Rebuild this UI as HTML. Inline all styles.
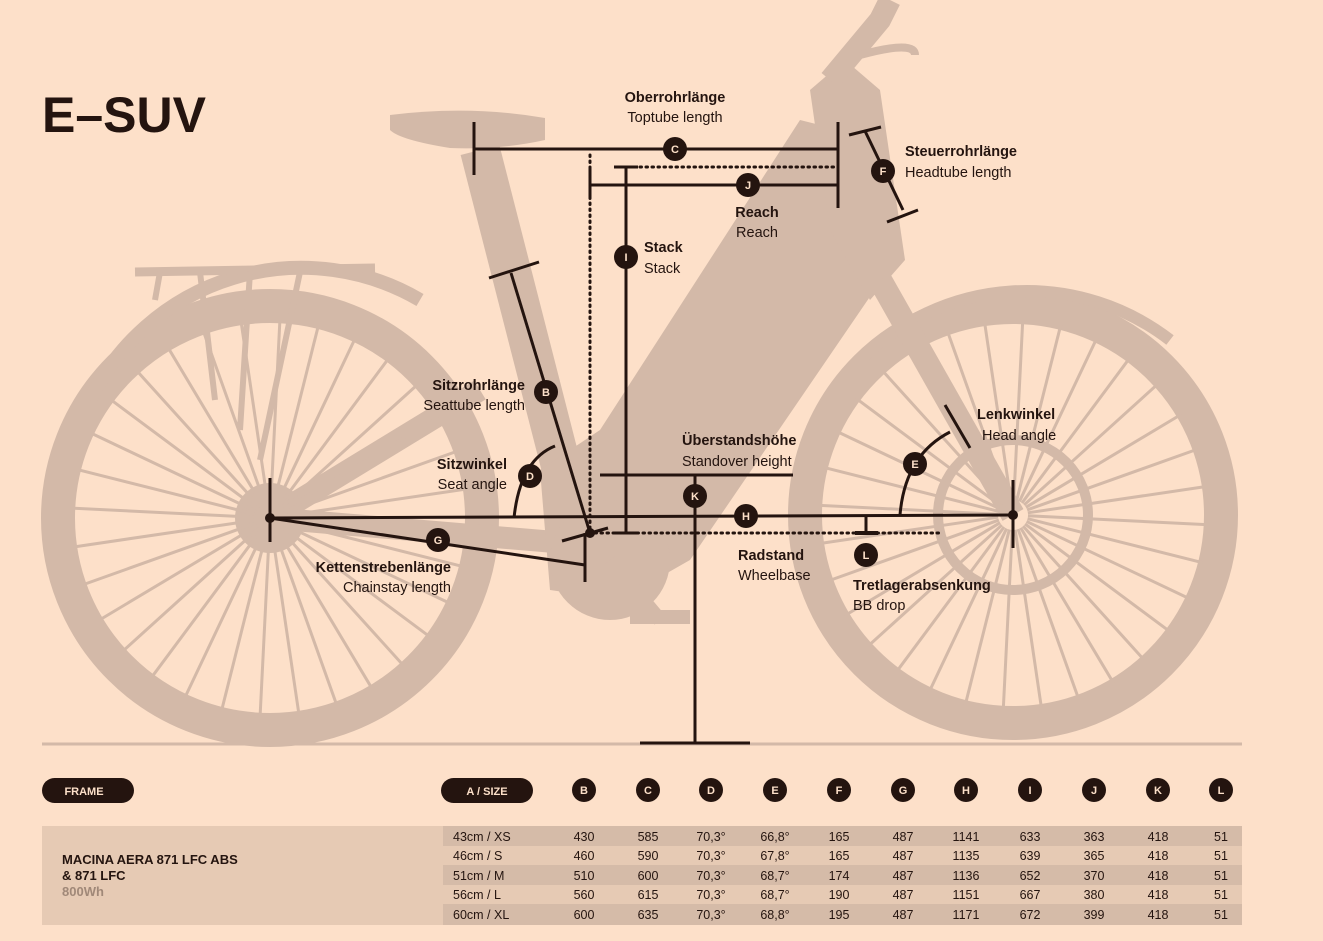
<!DOCTYPE html>
<html><head><meta charset="utf-8"><style>
html,body{margin:0;padding:0;background:#fde0c9;}
svg{display:block}
.t{font-family:"Liberation Sans Narrow","Liberation Sans",sans-serif;fill:#24140f}
.b{font-weight:bold;font-size:14.5px}
.n{font-size:14.5px}
.tab{font-family:"Liberation Sans Narrow","Liberation Sans",sans-serif;font-size:12.5px;fill:#24140f}
.lt{font-family:"Liberation Sans",sans-serif;font-weight:bold;font-size:11px;fill:#fde0c9}
</style></head><body>
<svg id="s" width="1323" height="941" viewBox="0 0 1323 941" xmlns="http://www.w3.org/2000/svg">
<rect width="1323" height="941" fill="#fde0c9"/>
<g id="bike" fill="#d3b9a8" stroke="#d3b9a8">
 <circle cx="270" cy="518" r="212" fill="none" stroke-width="34"/>
 <circle cx="1013" cy="515" r="208" fill="none" stroke-width="34"/>
 <path d="M 90 400 A 235 235 0 0 1 420 300" fill="none" stroke-width="14"/>
 <path d="M 860 360 A 235 235 0 0 1 1170 340" fill="none" stroke-width="12"/>
 <path d="M135 272 L375 268" stroke-width="9" fill="none"/>
 <path d="M160 272 L155 300 M200 272 L215 400 M250 272 L240 430 M300 272 L260 460" stroke-width="6" fill="none"/>
 <path d="M480 390 L270 518" stroke-width="22" fill="none"/>
 <path d="M270 518 L590 545" stroke-width="22" fill="none"/>
 <path d="M480 150 L580 540" stroke-width="40" fill="none"/>
 <path d="M390 115 Q470 105 545 118 L545 140 Q500 150 450 148 Q400 140 390 130 Z" stroke="none"/>
 <polygon points="800,120 880,140 895,260 690,560 620,600 550,590 540,470 600,430" stroke="none"/>
 <circle cx="610" cy="560" r="60" stroke="none"/>
 <polygon points="810,90 845,60 880,90 905,260 870,300 830,230" stroke="none"/>
 <path d="M830 80 L880 20 L890 0" stroke-width="22" fill="none"/>
 <path d="M860 55 Q915 40 915 55" stroke-width="8" fill="none"/>
 <path d="M880 280 L1013 515" stroke-width="24" fill="none"/>
 <circle cx="270" cy="518" r="35" stroke="none"/>
 <circle cx="1013" cy="515" r="75" fill="none" stroke-width="10"/>
 <path d="M610 560 L660 620" stroke-width="14" fill="none"/>
 <rect x="630" y="610" width="60" height="14" stroke="none"/>
 <g id="spokes" stroke-width="3" fill="none"></g>
</g>
<line x1="42" y1="744" x2="1242" y2="744" stroke="#d3b9a8" stroke-width="3"/>
<text x="42" y="132" font-family="Liberation Sans, sans-serif" font-weight="bold" font-size="50" fill="#24140f">E–SUV</text>

<g stroke="#24140f" fill="none" stroke-width="3">
 <line x1="474" y1="149" x2="838" y2="149"/>
 <line x1="474" y1="122" x2="474" y2="175"/>
 <line x1="838" y1="122" x2="838" y2="208"/>
 <line x1="590" y1="185" x2="838" y2="185"/>
 <line x1="590" y1="168" x2="590" y2="198"/>
 <line x1="626" y1="167" x2="626" y2="533"/>
 <line x1="614" y1="167" x2="638" y2="167"/>
 <line x1="614" y1="533" x2="638" y2="533"/>
 <line x1="590" y1="155" x2="590" y2="530" stroke-dasharray="1.5 4.5" stroke-linecap="round"/>
 <line x1="640" y1="167" x2="835" y2="167" stroke-dasharray="1.5 4.5" stroke-linecap="round"/>
 <line x1="595" y1="533" x2="940" y2="533" stroke-dasharray="1.5 4.5" stroke-linecap="round"/>
 <line x1="849" y1="135" x2="881" y2="127"/>
 <line x1="865" y1="131" x2="903" y2="210"/>
 <line x1="887" y1="222" x2="918" y2="210"/>
 <line x1="489" y1="278" x2="539" y2="262"/>
 <line x1="511" y1="273" x2="590" y2="533"/>
 <path d="M514 518 Q520 460 555 446"/>
 <line x1="270" y1="518" x2="1013" y2="515"/>
 <line x1="270" y1="478" x2="270" y2="542"/>
 <line x1="1013" y1="480" x2="1013" y2="548"/>
 <line x1="270" y1="518" x2="585" y2="565"/>
 <line x1="585" y1="533" x2="585" y2="582"/>
 <line x1="562" y1="541" x2="608" y2="528"/>
 <line x1="600" y1="475" x2="793" y2="475"/>
 <line x1="695" y1="475" x2="695" y2="744"/>
 <line x1="640" y1="743" x2="750" y2="743"/>
 <line x1="866" y1="517" x2="866" y2="533"/>
 <line x1="855" y1="533" x2="878" y2="533" stroke-width="4"/>
 <path d="M900 515 Q905 455 950 432"/>
 <line x1="945" y1="405" x2="970" y2="448"/>
</g>
<circle cx="590" cy="533" r="5" fill="#24140f"/>
<circle cx="270" cy="518" r="5" fill="#24140f"/>
<circle cx="1013" cy="515" r="5" fill="#24140f"/>

<g id="badges"></g>

<g class="t">
 <text x="675" y="102" class="b" text-anchor="middle">Oberrohrlänge</text>
 <text x="675" y="122" class="n" text-anchor="middle">Toptube length</text>
 <text x="905" y="156" class="b">Steuerrohrlänge</text>
 <text x="905" y="177" class="n">Headtube length</text>
 <text x="757" y="217" class="b" text-anchor="middle">Reach</text>
 <text x="757" y="237" class="n" text-anchor="middle">Reach</text>
 <text x="644" y="252" class="b">Stack</text>
 <text x="644" y="273" class="n">Stack</text>
 <text x="525" y="390" class="b" text-anchor="end">Sitzrohrlänge</text>
 <text x="525" y="410" class="n" text-anchor="end">Seattube length</text>
 <text x="507" y="469" class="b" text-anchor="end">Sitzwinkel</text>
 <text x="507" y="489" class="n" text-anchor="end">Seat angle</text>
 <text x="682" y="445" class="b">Überstandshöhe</text>
 <text x="682" y="466" class="n">Standover height</text>
 <text x="977" y="419" class="b">Lenkwinkel</text>
 <text x="982" y="440" class="n">Head angle</text>
 <text x="451" y="572" class="b" text-anchor="end">Kettenstrebenlänge</text>
 <text x="451" y="592" class="n" text-anchor="end">Chainstay length</text>
 <text x="738" y="560" class="b">Radstand</text>
 <text x="738" y="580" class="n">Wheelbase</text>
 <text x="853" y="590" class="b">Tretlagerabsenkung</text>
 <text x="853" y="610" class="n">BB drop</text>
</g>

<rect x="42" y="826" width="1200" height="99" fill="#e6cab4"/>
<g fill="#d5bba8">
 <rect x="443" y="826" width="799" height="20"/>
 <rect x="443" y="865" width="799" height="20"/>
 <rect x="443" y="904" width="799" height="21"/>
</g>
<rect x="42" y="778" width="92" height="25" rx="12.5" fill="#24140f"/>
<text x="84" y="795" class="lt" text-anchor="middle" font-size="12">FRAME</text>
<rect x="441" y="778" width="92" height="25" rx="12.5" fill="#24140f"/>
<text x="487" y="795" class="lt" text-anchor="middle" font-size="12">A / SIZE</text>
<text x="62" y="864" font-family="Liberation Sans, sans-serif" font-weight="bold" font-size="13" fill="#24140f">MACINA AERA 871 LFC ABS</text>
<text x="62" y="880" font-family="Liberation Sans, sans-serif" font-weight="bold" font-size="13" fill="#24140f">&amp; 871 LFC</text>
<text x="62" y="896" font-family="Liberation Sans, sans-serif" font-weight="bold" font-size="13" fill="#a08878">800Wh</text>
<g id="tbl"></g>
</svg>
<script>
var NS="http://www.w3.org/2000/svg";
function el(p,t,a,txt){var e=document.createElementNS(NS,t);for(var k in a)e.setAttribute(k,a[k]);if(txt)e.textContent=txt;p.appendChild(e);return e;}
var sp=document.getElementById("spokes");
[[270,518],[1013,515]].forEach(function(c){for(var i=0;i<32;i++){var a=i*Math.PI*2/32+0.05;el(sp,"line",{x1:c[0]+Math.cos(a)*15,y1:c[1]+Math.sin(a)*15,x2:c[0]+Math.cos(a)*196,y2:c[1]+Math.sin(a)*196});}});
var bd=document.getElementById("badges");
[["C",675,149],["J",748,185],["I",626,257],["F",883,171],["B",546,392],["D",530,476],["K",695,496],["H",746,516],["G",438,540],["E",915,464],["L",866,555]].forEach(function(b){el(bd,"circle",{cx:b[1],cy:b[2],r:12,fill:"#24140f"});el(bd,"text",{x:b[1],y:b[2]+4,"class":"lt","text-anchor":"middle"},b[0]);});
var tb=document.getElementById("tbl");
var cols=[584,648,711,775,839,903,966,1030,1094,1158,1221];
"BCDEFGHIJKL".split("").forEach(function(L,i){el(tb,"circle",{cx:cols[i],cy:790,r:12,fill:"#24140f"});el(tb,"text",{x:cols[i],y:794,"class":"lt","text-anchor":"middle"},L);});
var rows=[["43cm / XS","430","585","70,3°","66,8°","165","487","1141","633","363","418","51"],
["46cm / S","460","590","70,3°","67,8°","165","487","1135","639","365","418","51"],
["51cm / M","510","600","70,3°","68,7°","174","487","1136","652","370","418","51"],
["56cm / L","560","615","70,3°","68,7°","190","487","1151","667","380","418","51"],
["60cm / XL","600","635","70,3°","68,8°","195","487","1171","672","399","418","51"]];
var ys=[841,860,880,899,919];
rows.forEach(function(r,j){el(tb,"text",{x:453,y:ys[j],"class":"tab","text-anchor":"start"},r[0]);for(var i=1;i<r.length;i++)el(tb,"text",{x:cols[i-1],y:ys[j],"class":"tab","text-anchor":"middle"},r[i]);});
</script>
</body></html>
